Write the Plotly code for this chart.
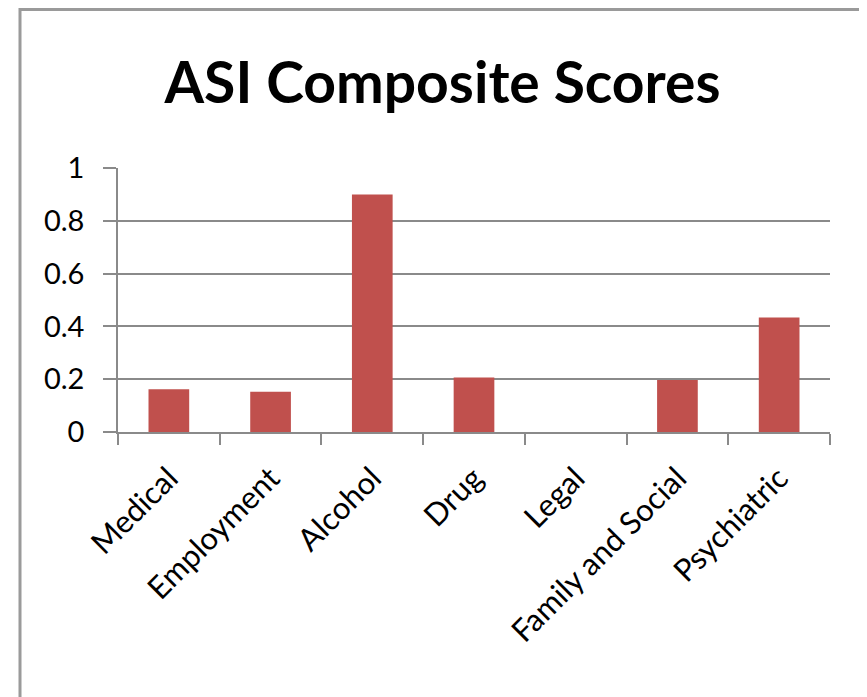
import plotly.graph_objects as go

categories = ["Medical", "Employment", "Alcohol", "Drug", "Legal", "Family and Social", "Psychiatric"]
scores = [0.162, 0.152, 0.90, 0.206, 0.0, 0.197, 0.434]
y_ticks = [0, 0.2, 0.4, 0.6, 0.8, 1]
y_tick_labels = ["0", "0.2", "0.4", "0.6", "0.8", "1"]

# The page body adds an 8px margin, so the figure is sized to the remaining window.
OFF = 8
W, H = 867 - OFF, 697 - OFF
L, R, T, B = 118 - OFF, 37, 168 - OFF, 265

FONT = "Lato"
GRID = "#8a8a8a"

fig = go.Figure(go.Bar(x=categories, y=scores, marker=dict(color="#C0504D", line=dict(width=0))))

pw = W - L - R
ph = H - T - B
fig.update_layout(
    width=W, height=H,
    margin=dict(l=L, r=R, t=T, b=B, autoexpand=False),
    paper_bgcolor="white", plot_bgcolor="white",
    bargap=0.6,
    showlegend=False,
    title=dict(text="<b>ASI Composite Scores</b>", x=(442.5 - OFF) / W, xanchor="center", xref="container",
               y=1 - (83 - OFF) / H, yanchor="middle", yref="container",
               font=dict(family=FONT, size=57, color="black")),
    font=dict(family=FONT, color="black"),
    xaxis=dict(type="category", tickangle=-45, tickson="boundaries", ticks="outside", ticklen=11,
               tickcolor=GRID, tickwidth=1.5, showline=True, linecolor=GRID, linewidth=1.5,
               showgrid=False, ticklabelstandoff=14,
               tickfont=dict(family=FONT, size=31, color="black")),
    yaxis=dict(range=[0, 1], tickvals=y_ticks, ticktext=y_tick_labels, ticks="outside", ticklen=13,
               tickcolor=GRID, tickwidth=1.5, showline=True, linecolor=GRID, linewidth=1.5,
               showgrid=True, gridcolor=GRID, gridwidth=1.5, zeroline=False,
               ticklabelstandoff=13, tickfont=dict(family=FONT, size=29, color="black")),
    shapes=[dict(type="rect", xref="paper", yref="paper",
                 x0=(20 - OFF - L) / pw, x1=(W + 20 - L) / pw,
                 y0=-(H + 20 - T - ph) / ph, y1=(H - B - (9.5 - OFF)) / ph,
                 line=dict(color="#9a9a9a", width=3), fillcolor="rgba(0,0,0,0)", layer="below")],
)

fig.write_html("out.html")
